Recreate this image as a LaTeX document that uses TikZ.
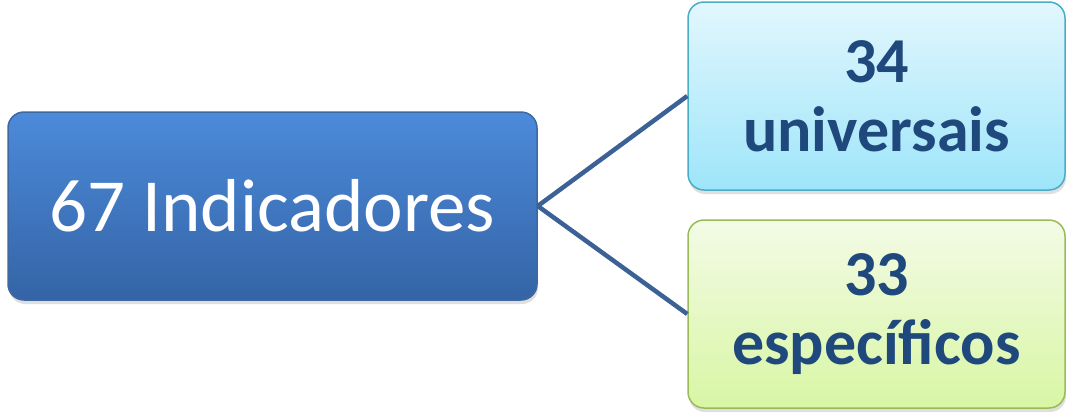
\documentclass[tikz,border=0pt]{standalone}
\usepackage{fontspec}
\setmainfont{Carlito}
\usepackage{tikz}
\usetikzlibrary{calc}
\usetikzlibrary{shadows}

\definecolor{indtop}{RGB}{76,138,218}
\definecolor{indbot}{RGB}{52,100,166}
\definecolor{indline}{RGB}{62,105,160}
\definecolor{unitop}{RGB}{226,247,253}
\definecolor{unibot}{RGB}{158,229,250}
\definecolor{uniline}{RGB}{75,172,198}
\definecolor{esptop}{RGB}{243,251,230}
\definecolor{espbot}{RGB}{216,246,164}
\definecolor{espline}{RGB}{155,187,89}
\definecolor{txtblue}{RGB}{31,73,125}
\definecolor{link}{RGB}{60,97,150}

\begin{document}
\begin{tikzpicture}[x=1pt,y=-1pt,
	box/.style={rounded corners=16pt,line width=1.5pt,inner sep=0pt,
		drop shadow={opacity=0.25,shadow xshift=1pt,shadow yshift=-4pt}},
	numtext/.style={text=txtblue,align=center,font=\fontsize{64}{69}\selectfont\bfseries}]
\useasboundingbox (0,0) rectangle (1066,418);
		%\draw[help lines] (0,0) grid[step=50] (1066,418);
		\node[box,draw=indline,top color=indtop,bottom color=indbot,
			minimum width=529pt,minimum height=188pt,text=white,
			font=\fontsize{75}{84}\selectfont] (ind) at (272.5,206) {\raisebox{-3pt}{67 Indicadores}};
		\node[box,draw=uniline,top color=unitop,bottom color=unibot,
			minimum width=377pt,minimum height=188pt,numtext] (uni) at (876.5,96) {34\\universais};
		\node[box,draw=espline,top color=esptop,bottom color=espbot,
			minimum width=377pt,minimum height=188pt,numtext] (esp) at (876.5,314) {33\\específicos};
		\draw[link,line width=4.5pt] (ind.east) -- (uni.west);
		\draw[link,line width=4.5pt] (ind.east) -- (esp.west);
\end{tikzpicture}
\end{document}
